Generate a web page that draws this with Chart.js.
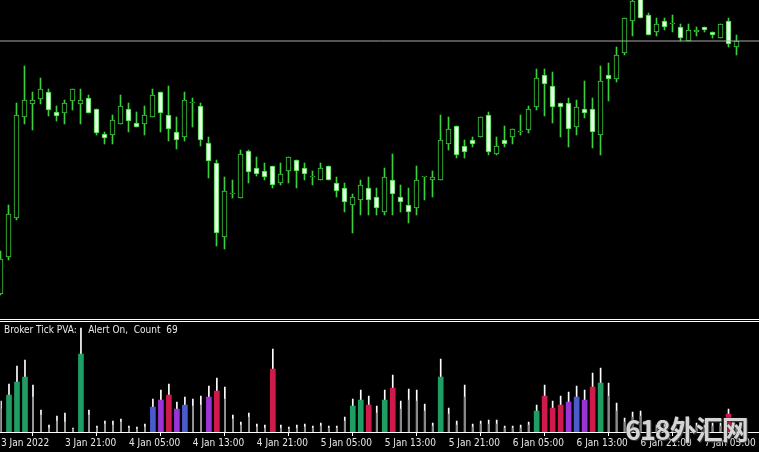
<!DOCTYPE html>
<html>
<head>
<meta charset="utf-8">
<script src="https://cdn.jsdelivr.net/npm/chart.js@4.4.1/dist/chart.umd.min.js"></script>
<style>
  html, body { margin: 0; padding: 0; background: #000; }
  #wrap { position: relative; width: 759px; height: 452px; overflow: hidden; background: #000; }
  #main { position: absolute; left: 0; top: 0; }
  #vol { position: absolute; left: 0; top: 322px; }
  .sep { position: absolute; left: 0; width: 759px; height: 1px; background: #fff; }
  #title {
    position: absolute; left: 4px; top: 324px; color: #e8e8e8; white-space: pre;
    font: 10px "Liberation Sans Narrow", "DejaVu Sans Condensed", "Liberation Sans", sans-serif;
  }
  #wm {
    position: absolute; left: 625px; top: 409px; color: rgba(228, 228, 228, 0.92);
    font: bold 27px "Noto Sans CJK SC", sans-serif; letter-spacing: -1px;
    text-shadow: 0 0 2px #222, 1px 1px 1px #444;
  }
</style>
</head>
<body>
<div id="wrap">
  <canvas id="main" width="759" height="319"></canvas>
  <div class="sep" style="top:319px"></div>
  <div class="sep" style="top:321px"></div>
  <canvas id="vol" width="759" height="130"></canvas>
  <div id="title">Broker Tick PVA:    Alert On,  Count  69</div>
  <div id="wm">618外汇网</div>
</div>
<script>
// H1 candles, 3 Jan 2022 13:00 .. 7 Jan 2022 09:00 (price in points)
const openP = [26, 63, 102, 203, 216, 221, 228, 208, 207, 219,
  216, 222, 211, 186, 185, 196, 211, 197, 196, 203,
  228, 205, 188, 183, 217, 214, 177, 157, 83, 126,
  122, 169, 152, 149, 154, 137, 149, 160, 152, 143,
  140, 154, 137, 132, 115, 120, 132, 123, 108, 140,
  123, 115, 112, 143, 140, 140, 176, 194, 174, 180,
  183, 205, 166, 180, 183, 188, 190, 213, 245, 234,
  217, 217, 193, 211, 211, 185, 245, 241, 267, 299,
  321, 305, 288, 299, 296, 293, 279, 288, 293, 288,
  282, 299, 273];
const highP = [69, 115, 217, 254, 228, 242, 231, 214, 220, 231,
  231, 225, 211, 188, 205, 225, 217, 208, 214, 231,
  228, 234, 203, 228, 222, 217, 183, 160, 143, 140,
  170, 170, 163, 157, 154, 157, 163, 160, 157, 149,
  157, 154, 143, 137, 126, 140, 143, 132, 152, 166,
  135, 132, 154, 143, 149, 205, 203, 194, 180, 183,
  203, 208, 183, 194, 191, 205, 214, 251, 251, 248,
  217, 222, 220, 239, 222, 254, 257, 273, 302, 320,
  324, 307, 302, 302, 305, 296, 296, 293, 293, 288,
  296, 302, 285];
const lowP = [25, 60, 100, 196, 190, 216, 204, 199, 196, 210,
  196, 207, 185, 176, 176, 196, 188, 193, 185, 203,
  188, 179, 171, 179, 193, 174, 142, 74, 71, 122,
  122, 137, 144, 140, 132, 135, 137, 132, 140, 135,
  140, 140, 123, 108, 87, 105, 105, 105, 105, 105,
  108, 97, 105, 120, 123, 140, 170, 162, 162, 173,
  183, 165, 165, 173, 176, 185, 187, 210, 204, 197,
  183, 173, 185, 202, 172, 165, 219, 238, 265, 284,
  302, 285, 284, 290, 288, 279, 279, 284, 288, 282,
  282, 273, 265];
const closeP = [61, 106, 205, 220, 220, 231, 210, 204, 217, 231,
  220, 207, 187, 182, 200, 214, 199, 193, 205, 225,
  207, 191, 180, 220, 217, 180, 159, 87, 129, 126,
  166, 148, 146, 143, 135, 146, 163, 149, 146, 143,
  152, 140, 129, 118, 123, 135, 120, 112, 143, 126,
  118, 108, 140, 143, 143, 180, 191, 165, 168, 176,
  203, 168, 174, 176, 191, 188, 211, 242, 236, 213,
  213, 191, 213, 207, 188, 239, 241, 265, 302, 319,
  302, 285, 296, 293, 296, 282, 290, 290, 290, 285,
  296, 276, 279];
const priceLine = 279;

// Broker Tick PVA: total ticks (white) and PVA bar (coloured / grey)
const tickVol = [310, 480, 660, 720, 470, 220, 70, 160, 190, 40,
  1040, 220, 60, 110, 110, 130, 60, 50, 80, 330,
  420, 480, 300, 350, 330, 360, 460, 540, 450, 170,
  100, 190, 80, 70, 830, 70, 50, 70, 80, 60,
  90, 60, 60, 150, 330, 420, 360, 260, 420, 570,
  310, 430, 420, 280, 90, 730, 240, 110, 470, 80,
  110, 120, 120, 60, 60, 70, 100, 270, 470, 310,
  360, 400, 460, 420, 590, 640, 490, 290, 140, 200,
  210, 100, 70, 80, 60, 70, 70, 90, 70, 90,
  90, 230, 70];
const pvaVol = [230, 370, 500, 550, 350, 170, 40, 110, 100, 30,
  780, 170, 40, 80, 70, 100, 40, 30, 50, 250,
  320, 370, 230, 270, 260, 270, 350, 410, 330, 130,
  70, 150, 50, 40, 630, 40, 30, 40, 50, 40,
  60, 40, 40, 110, 260, 320, 270, 190, 320, 440,
  230, 320, 310, 210, 60, 550, 180, 70, 350, 50,
  80, 80, 80, 40, 40, 40, 70, 210, 360, 240,
  270, 300, 350, 320, 450, 490, 360, 210, 100, 150,
  160, 70, 40, 50, 40, 40, 40, 60, 40, 60,
  60, 180, 40];
// n = normal, g = climax up, r = climax down, p / b = rising volume
const pvaType = ('n' + 'ggg' + 'nnnnnn' + 'g' + 'nnnnnnnn' + 'bprpb' + 'nn' + 'pr' +
  'nnnnnn' + 'r' + 'nnnnnnnnn' + 'ggrngr' + 'nnnnn' + 'g' + 'nnnnnnnnnnn' +
  'grrrpbprg' + 'nnnnnnnnnnnnnnn' + 'rn').split('');

const tickIdx = [0, 8, 16, 24, 32, 40, 48, 56, 64, 72, 80, 88];
const tickLabels = ['3 Jan 2022', '3 Jan 21:00', '4 Jan 05:00', '4 Jan 13:00', '4 Jan 21:00',
  '5 Jan 05:00', '5 Jan 13:00', '5 Jan 21:00', '6 Jan 05:00', '6 Jan 13:00',
  '6 Jan 21:00', '7 Jan 05:00'];

const CANDLE = '#3ccf3c';
const BEAR_FILL = '#e6ffe6';
const PVA_COLORS = { g: '#1e9e62', r: '#cf1a4c', p: '#9a34d4', b: '#4a5ccc' };
const LABEL_FONT = '"Liberation Sans Narrow", "DejaVu Sans Condensed", "Liberation Sans", sans-serif';

// 8 px per bar, bar centre on a pixel column
const xMin = -0.0625;
const xMax = xMin + 759 / 8;
const idx = openP.map((_, i) => i);

const baseOptions = {
    animation: false,
    responsive: false,
    devicePixelRatio: 1,
    layout: { padding: 0 },
    events: [],
    plugins: { legend: { display: false }, tooltip: { enabled: false }, title: { display: false } }
};

new Chart(document.getElementById('main'), {
    type: 'bar',
    data: {
        datasets: [
            {
                type: 'line',
                data: [{ x: xMin, y: priceLine }, { x: xMax, y: priceLine }],
                borderColor: '#a9a9a9',
                borderWidth: 1,
                pointRadius: 0,
                order: 0
            },
            {
                data: idx.map(i => ({ x: i, y: [openP[i], closeP[i]] })),
                backgroundColor: idx.map(i => closeP[i] < openP[i] ? BEAR_FILL : '#000'),
                borderColor: CANDLE,
                borderWidth: 1,
                borderSkipped: false,
                barThickness: 5,
                minBarLength: 1,
                grouped: false,
                order: 1
            },
            {
                data: idx.map(i => ({ x: i, y: [lowP[i], highP[i]] })),
                backgroundColor: CANDLE,
                barThickness: 1,
                grouped: false,
                order: 2
            }
        ]
    },
    options: {
        ...baseOptions,
        scales: {
            x: { type: 'linear', min: xMin, max: xMax, display: false, offset: false },
            y: { min: 1, max: 320, display: false }
        }
    }
});

const greyIdx = idx.filter(i => pvaType[i] === 'n');
const colIdx = idx.filter(i => pvaType[i] !== 'n');

new Chart(document.getElementById('vol'), {
    type: 'bar',
    data: {
        datasets: [
            {
                data: colIdx.map(i => ({ x: i, y: pvaVol[i] })),
                backgroundColor: colIdx.map(i => PVA_COLORS[pvaType[i]]),
                barThickness: 5,
                grouped: false,
                order: 1
            },
            {
                data: greyIdx.map(i => ({ x: i, y: pvaVol[i] })),
                backgroundColor: '#8a8a8a',
                barThickness: 1,
                grouped: false,
                order: 2
            },
            {
                data: idx.map(i => ({ x: i, y: tickVol[i] })),
                backgroundColor: '#ffffff',
                barThickness: 1,
                grouped: false,
                order: 3
            }
        ]
    },
    options: {
        ...baseOptions,
        scales: {
            x: {
                type: 'linear', min: xMin, max: xMax, offset: false, position: 'bottom',
                afterBuildTicks: (scale) => { scale.ticks = tickIdx.map(v => ({ value: v })); },
                afterFit: (scale) => { scale.height = 20; },
                grid: { display: true, drawOnChartArea: false, drawTicks: true, tickLength: 4, color: '#ffffff', lineWidth: 1 },
                border: { display: true, color: '#ffffff', width: 1 },
                ticks: {
                    autoSkip: false, maxRotation: 0, minRotation: 0, align: 'start', padding: 1,
                    color: '#e8e8e8', font: { family: LABEL_FONT, size: 10 },
                    callback: (value) => tickLabels[tickIdx.indexOf(value)] || ''
                }
            },
            y: { min: 0, max: 1100, display: false }
        }
    }
});
</script>
</body>
</html>
